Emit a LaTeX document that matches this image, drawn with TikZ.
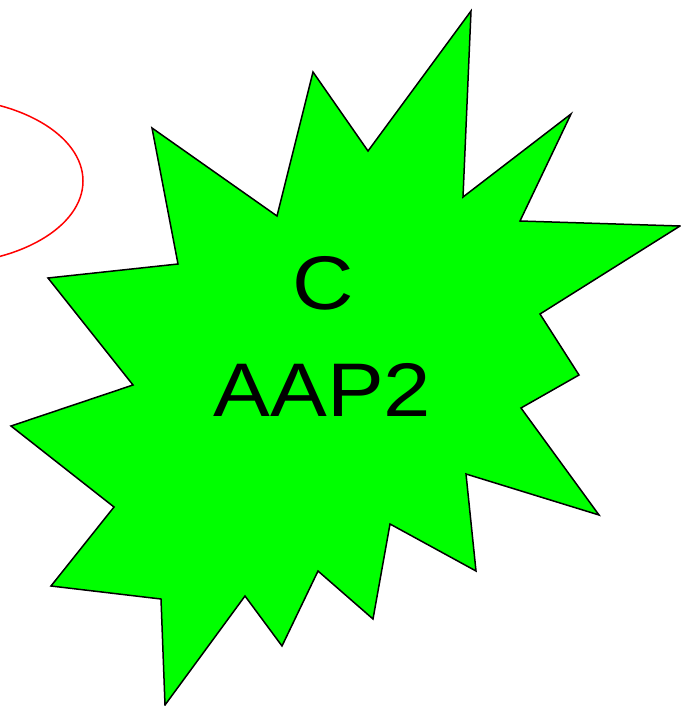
\documentclass[tikz,border=0pt]{standalone}
\usepackage{fontspec}
\setmainfont{Liberation Sans}
\definecolor{burstgreen}{RGB}{0,255,0}
\tikzset{
  burst/.style={draw=black, fill=burstgreen, line width=1.5pt, line join=miter},
  oval/.style={draw=red, line width=1.5pt},
  bigtext/.style={font=\fontsize{76}{90}\selectfont, inner sep=0pt, anchor=base}
}
\begin{document}
\begin{tikzpicture}[x=1pt,y=-1pt]
      \useasboundingbox (0,0) rectangle (680,706);
      \draw[oval] (-60,181) ellipse [x radius=143, y radius=83];
      \draw[burst]
        (471,11) -- (463,197) -- (571,114) -- (520,221) -- (680,226)
        -- (540,314) -- (579,375) -- (521,408) -- (599,515) -- (466,474)
        -- (476,571) -- (390,524) -- (373,619) -- (318,571) -- (282,646)
        -- (245,596) -- (165,705) -- (161,599) -- (51,586) -- (114,507)
        -- (11,426) -- (133,385) -- (48,278) -- (178,264) -- (152,128)
        -- (277,216) -- (313,72) -- (368,151) -- cycle;
      \node[bigtext] (c) at (323,309) {\scalebox{1.12}[1]{C}};
      \node[bigtext] (aap2) at (322.5,416) {\scalebox{1.12}[1]{AAP2}};
    \end{tikzpicture}
\end{document}
